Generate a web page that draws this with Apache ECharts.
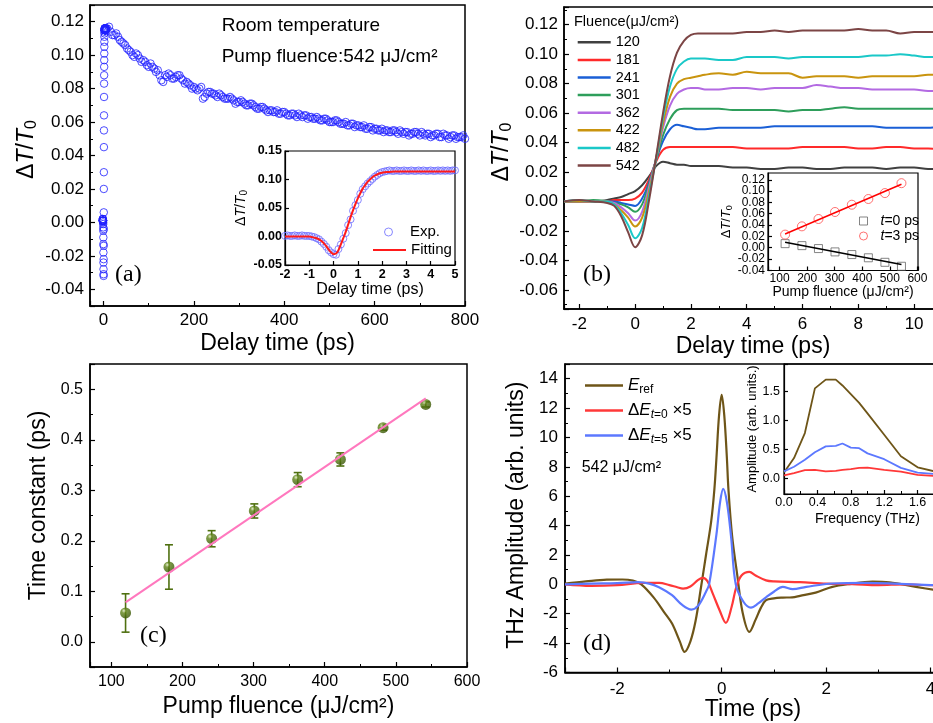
<!DOCTYPE html>
<html>
<head>
<meta charset="utf-8">
<title>Ultrafast THz response</title>
<script src="https://cdn.jsdelivr.net/npm/echarts@6/dist/echarts.min.js"></script>
<style>
  html, body { margin: 0; padding: 0; background: #fff; }
  #chart { width: 933px; height: 723px; }
</style>
</head>
<body>
<div id="chart"></div>
<script>
// ---- (a) long-delay decay, 542 uJ/cm2 (two interleaved scans) ----
const decayT = [8,16,24,32,40,48,56,64,72,80,88,96,104,112,120,128,136,144,152,160,168,176,184,192,200,208,216,224,232,240,248,256,264,272,280,288,296,304,312,320,328,336,344,352,360,368,376,384,392,400,408,416,424,432,440,448,456,464,472,480,488,496,504,512,520,528,536,544,552,560,568,576,584,592,600,608,616,624,632,640,648,656,664,672,680,688,696,704,712,720,728,736,744,752,760,768,776,784,792,800];
const decayV = [0.116,0.114,0.112,0.111,0.108,0.106,0.103,0.100,0.101,0.098,
  0.097,0.094,0.095,0.092,0.091,0.085,0.088,0.089,0.086,0.087,
  0.088,0.085,0.084,0.082,0.081,0.079,0.081,0.075,0.078,0.077,
  0.076,0.077,0.075,0.074,0.075,0.073,0.072,0.073,0.071,0.070,
  0.071,0.069,0.068,0.069,0.067,0.067,0.066,0.067,0.065,0.066,
  0.064,0.065,0.064,0.065,0.063,0.064,0.063,0.062,0.063,0.061,
  0.062,0.061,0.060,0.061,0.060,0.059,0.060,0.058,0.059,0.058,
  0.057,0.058,0.056,0.057,0.056,0.055,0.056,0.055,0.054,0.055,
  0.054,0.055,0.053,0.054,0.053,0.054,0.053,0.054,0.052,0.053,
  0.052,0.053,0.051,0.053,0.052,0.051,0.052,0.051,0.051,0.050];
const decayT2 = [4,12,20,28,36,44,52,60,68,76,84,92,100,108,116,124,132,140,148,156,164,172,180,188,196,204,212,220,228,236,244,252,260,268,276,284,292,300,308,316,324,332,340,348,356,364,372,380,388,396,404,412,420,428,436,444,452,460,468,476,484,492,500,508,516,524,532,540,548,556,564,572,580,588,596,604,612,620,628,636,644,652,660,668,676,684,692,700,708,716,724,732,740,748,756,764,772,780,788,796];
const decayV2 = [0.115,0.117,0.112,0.113,0.109,0.107,0.104,0.102,0.099,0.100,
  0.096,0.096,0.093,0.093,0.090,0.088,0.084,0.087,0.088,0.086,
  0.088,0.086,0.083,0.083,0.080,0.080,0.080,0.074,0.077,0.078,
  0.077,0.075,0.076,0.074,0.074,0.074,0.071,0.072,0.072,0.070,
  0.071,0.070,0.068,0.069,0.068,0.066,0.067,0.066,0.065,0.066,
  0.065,0.064,0.065,0.063,0.064,0.064,0.062,0.063,0.062,0.062,
  0.061,0.062,0.060,0.060,0.061,0.059,0.059,0.058,0.059,0.057,
  0.058,0.057,0.056,0.057,0.055,0.056,0.055,0.054,0.055,0.054,
  0.055,0.053,0.054,0.054,0.052,0.053,0.054,0.052,0.053,0.053,
  0.051,0.052,0.053,0.051,0.052,0.050,0.052,0.050,0.051,0.052];

// ---- (a) inset: short delay scan and fit ----
const expT = [-2.0,-1.9,-1.8,-1.7,-1.6,-1.5,-1.4,-1.3,-1.2,-1.1,-1.0,-0.9,-0.8,-0.7,-0.6,-0.5,-0.4,-0.3,-0.2,-0.1,
  0.0,0.1,0.2,0.3,0.4,0.5,0.6,0.7,0.8,0.9,1.0,1.1,1.2,1.3,1.4,1.5,1.6,1.7,1.8,1.9,
  2.0,2.1,2.2,2.3,2.4,2.5,2.6,2.7,2.8,2.9,3.0,3.1,3.2,3.3,3.4,3.5,3.6,3.7,3.8,3.9,
  4.0,4.1,4.2,4.3,4.4,4.5,4.6,4.7,4.8,4.9,5.0];
const expV = [0.001,0.002,0.001,0.001,0.002,0.001,0.001,0.002,0.001,0.001,0.001,0.000,-0.001,-0.003,-0.005,-0.009,-0.013,-0.018,-0.024,-0.028,
  -0.031,-0.032,-0.022,-0.014,-0.004,0.006,0.020,0.030,0.045,0.055,0.064,0.075,0.083,0.088,0.093,0.097,0.101,0.105,0.108,0.111,
  0.113,0.114,0.115,0.116,0.115,0.115,0.116,0.115,0.115,0.116,0.115,0.115,0.116,0.115,0.115,0.116,0.115,0.116,0.115,0.115,
  0.116,0.115,0.115,0.116,0.115,0.116,0.115,0.116,0.115,0.116,0.116];
const fitT = [-2,-1.5,-1.0,-0.9,-0.8,-0.7,-0.6,-0.5,-0.4,-0.3,-0.2,-0.1,0,0.1,0.2,0.3,0.4,0.5,0.6,0.7,0.8,0.9,1.0,1.1,1.2,1.3,1.4,1.5,1.6,1.7,1.8,1.9,2.0,2.2,2.5,3,4,5];
const fitV = [0,0,0,-0.001,-0.002,-0.003,-0.005,-0.008,-0.012,-0.017,-0.023,-0.028,-0.031,-0.030,-0.024,-0.014,-0.003,0.008,0.021,0.034,0.046,0.057,0.067,0.076,0.084,0.090,0.096,0.100,0.104,0.107,0.109,0.111,0.112,0.113,0.114,0.114,0.114,0.114];

// ---- (b) fluence dependence ----
const bFluence = ['120','181','241','301','362','422','482','542'];
const bT = [-2.55,-2,-1.5,-1,-0.75,-0.5,-0.25,0,0.25,0.5,0.75,1,1.25,1.5,1.75,2,2.25,2.5,3,3.5,4,4.5,5,5.5,6,6.5,7,7.5,8,8.5,9,9.5,10,10.5,11];
const b120 = [0,0,0,0.001,0.002,0.003,0.005,0.007,0.011,0.017,0.024,0.027,0.026,0.025,0.025,0.024,0.024,0.024,0.024,0.023,0.023,0.022,0.022,0.023,0.023,0.022,0.022,0.023,0.023,0.023,0.022,0.023,0.023,0.022,0.022];
const b181 = [0,0,0,0,0.001,0.001,0.001,0.002,0.006,0.015,0.027,0.035,0.037,0.037,0.037,0.037,0.037,0.037,0.037,0.037,0.036,0.036,0.036,0.036,0.037,0.037,0.037,0.037,0.036,0.036,0.037,0.037,0.036,0.036,0.035];
const b241 = [0,0,0,0,0,-0.001,-0.002,-0.003,0.002,0.013,0.028,0.041,0.049,0.052,0.051,0.050,0.049,0.049,0.050,0.050,0.050,0.050,0.051,0.051,0.051,0.051,0.051,0.051,0.051,0.051,0.050,0.050,0.050,0.050,0.051];
const b301 = [0,0,0.001,0,-0.001,-0.002,-0.004,-0.007,-0.002,0.012,0.028,0.045,0.056,0.062,0.063,0.063,0.063,0.063,0.063,0.062,0.062,0.062,0.062,0.061,0.062,0.062,0.063,0.064,0.063,0.063,0.063,0.063,0.063,0.063,0.063];
const b362 = [0,0,0,0,-0.001,-0.004,-0.008,-0.013,-0.007,0.010,0.029,0.050,0.065,0.073,0.076,0.077,0.077,0.076,0.076,0.077,0.077,0.076,0.077,0.077,0.077,0.079,0.078,0.077,0.077,0.076,0.076,0.076,0.076,0.075,0.075];
const b422 = [0,0,0,0,-0.002,-0.006,-0.011,-0.017,-0.011,0.007,0.029,0.053,0.071,0.080,0.083,0.084,0.085,0.086,0.087,0.086,0.088,0.087,0.087,0.087,0.084,0.085,0.085,0.085,0.084,0.085,0.085,0.085,0.085,0.086,0.086];
const b482 = [0,0.001,0,0,-0.002,-0.008,-0.016,-0.025,-0.018,0.004,0.029,0.057,0.078,0.090,0.095,0.097,0.097,0.097,0.096,0.096,0.098,0.098,0.098,0.097,0.098,0.098,0.098,0.098,0.098,0.099,0.099,0.100,0.099,0.098,0.098];
const b542 = [0,0.001,0,-0.001,-0.003,-0.010,-0.021,-0.031,-0.023,0.001,0.030,0.060,0.085,0.101,0.109,0.113,0.114,0.114,0.114,0.114,0.115,0.115,0.116,0.115,0.116,0.116,0.116,0.116,0.117,0.116,0.116,0.114,0.115,0.115,0.115];
const bCurves = [b120, b181, b241, b301, b362, b422, b482, b542];
const bColors = ['#404040','#ff2a2a','#1a5fd6','#2e9e5b','#b36ae2','#c9940e','#1ac8c8','#7c4545'];

// ---- (b) inset + (c): values at each fluence ----
const fluence = [120,181,241,301,362,422,482,542];
const dT0 = [0.007,0.0035,-0.0017,-0.0076,-0.0123,-0.018,-0.026,-0.033];
const dT3 = [0.023,0.0376,0.0506,0.063,0.0759,0.086,0.0965,0.114];
const fitEnds = [120,542];
const fit0 = [0.0094,-0.030];
const fit3 = [0.024,0.112];
const tau = [0.057,0.148,0.204,0.259,0.321,0.361,0.424,0.470];
const tauErr = [0.038,0.044,0.016,0.014,0.014,0.013,0.005,0.005];
const tauFit = [0.078,0.482];

// ---- (d) THz waveforms ----
const erefT = [-3,-2.6,-2.2,-1.9,-1.7,-1.54,-1.3,-1.1,-0.95,-0.8,-0.71,-0.6,-0.5,-0.4,-0.3,-0.2,-0.14,-0.1,-0.05,0,0.05,0.1,0.13,0.2,0.3,0.4,0.53,0.65,0.75,0.85,1.0,1.17,1.35,1.5,1.8,2.12,2.44,2.89,3.21,3.72,4.2];
const erefV = [0.05,0.2,0.32,0.33,0.25,0.0,-0.9,-1.9,-2.67,-3.9,-4.6,-3.9,-2.5,-0.3,2.0,4.3,6.45,8.6,11.5,12.9,11.5,8.6,6.45,3.3,0.6,-1.9,-3.24,-2.4,-1.6,-1.08,-0.95,-0.9,-0.88,-0.78,-0.56,-0.17,0.02,0.18,0.13,-0.17,-0.45];
const dE0T = [-3,-2.5,-2,-1.5,-1.2,-1.0,-0.85,-0.74,-0.6,-0.45,-0.36,-0.27,-0.17,-0.04,0.08,0.19,0.28,0.38,0.53,0.65,0.85,1.0,1.5,2.0,2.5,3.0,3.5,4.0,4.5];
const dE0V = [0.0,-0.1,-0.05,0.1,0.1,-0.05,-0.2,-0.29,-0.15,0.3,0.44,0.2,-0.63,-1.76,-2.62,-1.54,-0.18,0.6,0.85,0.6,0.27,0.2,0.15,0.05,0.02,-0.05,0.0,-0.05,-0.05];
const dE5T = [-3,-2.5,-2,-1.6,-1.39,-1.2,-0.95,-0.75,-0.58,-0.45,-0.3,-0.24,-0.1,-0.03,0.03,0.1,0.18,0.27,0.42,0.56,0.7,0.85,1.0,1.17,1.36,1.62,2.12,2.76,3.3,4.0,4.5];
const dE5V = [0.0,0.05,0.08,0.15,0.05,-0.2,-0.74,-1.42,-1.72,-1.45,-0.5,0.0,3.4,5.6,6.5,5.6,3.25,0.0,-1.2,-1.58,-1.3,-0.88,-0.5,-0.17,-0.33,-0.17,0.06,0.1,0.05,-0.05,-0.1];

// ---- (d) inset spectra ----
const freq = [0,0.12,0.25,0.37,0.5,0.62,0.7,0.8,0.9,1.0,1.2,1.4,1.6,1.8,2.0];
const specRef = [0.10,0.35,0.78,1.55,1.70,1.70,1.60,1.45,1.30,1.12,0.75,0.38,0.19,0.12,0.08];
const specE5 = [0.12,0.20,0.32,0.45,0.55,0.56,0.60,0.53,0.52,0.43,0.33,0.18,0.10,0.075,0.06];
const specE0 = [0.05,0.09,0.14,0.145,0.12,0.13,0.145,0.16,0.18,0.185,0.145,0.115,0.06,0.04,0.03];

const FONT = '"Liberation Sans", Arial, sans-serif';
const SERIF = '"Liberation Serif", "Times New Roman", serif';

const pairs = (xs, ys) => xs.map((x, i) => [x, ys[i]]);

// label only multiples of step (hides the extra min/max ticks)
function fmt(step, dec) {
  return function (v) {
    const k = v / step;
    if (Math.abs(k - Math.round(k)) > 1e-6) return '';
    return (Math.round(k) * step).toFixed(dec);
  };
}

function dtName(size) {
  return {
    text: '{n|Δ}{i|T}{n|/}{i|T}{s|0}',
    rich: {
      n: { fontSize: size, fontFamily: FONT, verticalAlign: 'middle' },
      i: { fontSize: size, fontFamily: FONT, fontStyle: 'italic', verticalAlign: 'middle' },
      s: { fontSize: Math.round(size * 0.68), fontFamily: FONT, verticalAlign: 'middle', padding: [Math.round(size * 0.45), 0, 0, 0] }
    }
  };
}

function axis(o) {
  const nm = typeof o.name === 'object' ? o.name : { text: o.name || '', rich: {} };
  return {
    type: 'value', gridIndex: o.grid, min: o.min, max: o.max,
    minInterval: o.step, maxInterval: o.step,
    name: nm.text, nameLocation: 'middle', nameGap: o.nameGap, nameRotate: o.rotate || 0,
    nameTextStyle: { color: '#000', fontSize: o.nameSize, fontFamily: FONT, rich: nm.rich, padding: o.namePad || 0 },
    axisLine: { show: true, onZero: false, lineStyle: { color: '#000', width: o.lw || 1.5 } },
    axisTick: { show: true, inside: true, length: o.tick || 5, lineStyle: { color: '#000', width: 1.2 } },
    minorTick: { show: !!o.minor, splitNumber: o.minor || 2, length: 3, lineStyle: { color: '#000', width: 1 } },
    splitLine: { show: false },
    axisLabel: {
      color: '#000', fontSize: o.fs, fontFamily: FONT, margin: o.margin || 6,
      showMinLabel: o.showMin, showMaxLabel: o.showMax,
      fontWeight: o.bold ? 'bold' : 'normal', formatter: fmt(o.step, o.dec)
    }
  };
}

const grids = [
  { left: 90, top: 5, width: 375, height: 301 },      // a
  { left: 285, top: 151, width: 170, height: 114, borderWidth: 1.2 },   // a inset
  { left: 564, top: 7, width: 378, height: 302 },     // b
  { left: 768, top: 173, width: 150, height: 97.5, borderWidth: 1.2 },  // b inset
  { left: 90, top: 364, width: 377, height: 303 },    // c
  { left: 565, top: 364, width: 376, height: 308.5 }, // d
  { left: 784, top: 364, width: 167, height: 130, borderWidth: 1.2 }    // d inset
].map(g => Object.assign({
  show: true, borderColor: '#000', borderWidth: 1.5, backgroundColor: 'rgba(0,0,0,0)',
  containLabel: false, outerBoundsMode: 'none'
}, g));

const xAxes = [
  axis({ grid: 0, min: -30, max: 800, step: 200, minor: 2, dec: 0, fs: 17, name: 'Delay time (ps)', nameSize: 23, nameGap: 26 }),
  axis({ grid: 1, min: -2, max: 5, step: 1, dec: 0, fs: 12.5, bold: true, margin: 3, lw: 1.2, tick: 4, name: 'Delay time (ps)', nameSize: 16, nameGap: 17 }),
  axis({ grid: 2, min: -2.55, max: 11, step: 2, minor: 2, dec: 0, fs: 17, margin: 7, name: 'Delay time (ps)', nameSize: 23, nameGap: 26 }),
  axis({ grid: 3, min: 58, max: 602, step: 100, dec: 0, fs: 12, margin: 2, lw: 1.2, tick: 4, name: 'Pump fluence (μJ/cm²)', nameSize: 14, nameGap: 14 }),
  axis({ grid: 4, min: 70, max: 600, step: 100, minor: 2, dec: 0, fs: 16, margin: 7, name: 'Pump fluence (μJ/cm²)', nameSize: 23, nameGap: 28 }),
  axis({ grid: 5, min: -3, max: 4.2, step: 2, minor: 2, dec: 0, fs: 17, margin: 8, name: 'Time (ps)', nameSize: 23, nameGap: 24 }),
  axis({ grid: 6, min: 0, max: 2.0, step: 0.4, minor: 2, dec: 1, fs: 12.5, margin: 2, lw: 1.2, tick: 4, name: 'Frequency (THz)', nameSize: 14, nameGap: 18 })
];

const yAxes = [
  axis({ grid: 0, min: -0.05, max: 0.13, step: 0.02, minor: 2, dec: 2, fs: 17, name: dtName(23), rotate: 90, nameGap: 50, nameSize: 23, namePad: [0, 0, 0, 12] }),
  axis({ grid: 1, min: -0.05, max: 0.15, step: 0.05, dec: 2, fs: 12.5, bold: true, margin: 3, lw: 1.2, tick: 4, name: dtName(14), rotate: 90, nameGap: 34, nameSize: 14 }),
  axis({ grid: 2, min: -0.073, max: 0.132, step: 0.02, minor: 2, dec: 2, fs: 17, name: dtName(23), rotate: 90, nameGap: 49, nameSize: 23, namePad: [0, 0, 0, 12] }),
  // tightly packed labels: the empty extent label at the bottom is dropped so -0.04 and -0.02 both stay
  axis({ grid: 3, min: -0.0405, max: 0.132, step: 0.02, dec: 2, fs: 12, showMin: false, showMax: false, margin: 3, lw: 1.2, tick: 4, name: dtName(13), rotate: 90, nameGap: 32, nameSize: 13 }),
  axis({ grid: 4, min: -0.05, max: 0.55, step: 0.1, minor: 2, dec: 1, fs: 16, margin: 7, name: 'Time constant (ps)', rotate: 90, nameGap: 40, nameSize: 23, namePad: [0, 0, 0, 20] }),
  axis({ grid: 5, min: -6, max: 15, step: 2, minor: 2, dec: 0, fs: 17, margin: 7, name: 'THz Amplitude (arb. units)', rotate: 90, nameGap: 37, nameSize: 23, namePad: [0, 0, 0, 6] }),
  axis({ grid: 6, min: -0.27, max: 1.97, step: 0.5, dec: 1, fs: 12.5, margin: 4, lw: 1.2, tick: 4, name: 'Amplitude (arb. units.)', rotate: 90, nameGap: 20, nameSize: 13 })
];

const series = [];
const openCircle = (c) => ({ color: 'rgba(0,0,0,0)', borderColor: c, borderWidth: 1 });

// (a) main: short scan + two long scans
series.push({
  type: 'scatter', name: 'decay', xAxisIndex: 0, yAxisIndex: 0,
  data: pairs(expT, expV).concat(pairs(decayT, decayV), pairs(decayT2, decayV2)),
  symbol: 'circle', symbolSize: 7.5, itemStyle: openCircle('#1f1fff')
});
// (a) inset
series.push({
  type: 'scatter', name: 'Exp.', xAxisIndex: 1, yAxisIndex: 1,
  data: pairs(expT, expV), symbol: 'circle', symbolSize: 7, itemStyle: openCircle('#6b6bff')
});
series.push({
  type: 'line', name: 'Fitting', xAxisIndex: 1, yAxisIndex: 1,
  data: pairs(fitT, fitV), smooth: 0.3, symbol: 'none',
  lineStyle: { color: '#ff1a1a', width: 2 }, itemStyle: { color: '#ff1a1a' }, z: 4
});
// (b) main
bCurves.forEach((arr, k) => {
  series.push({
    type: 'line', name: bFluence[k], xAxisIndex: 2, yAxisIndex: 2,
    data: pairs(bT, arr), smooth: 0.35, symbol: 'none',
    lineStyle: { color: bColors[k], width: 2 }, itemStyle: { color: bColors[k] }
  });
});
// (b) inset
series.push({
  type: 'line', name: 'fit0', xAxisIndex: 3, yAxisIndex: 3, data: pairs(fitEnds, fit0),
  symbol: 'none', lineStyle: { color: '#000', width: 1.5 }
});
series.push({
  type: 'line', name: 'fit3', xAxisIndex: 3, yAxisIndex: 3, data: pairs(fitEnds, fit3),
  symbol: 'none', lineStyle: { color: '#ff0000', width: 1.5 }
});
series.push({
  type: 'scatter', name: 't=0 ps', xAxisIndex: 3, yAxisIndex: 3, data: pairs(fluence, dT0),
  symbol: 'rect', symbolSize: 8, itemStyle: openCircle('#666')
});
series.push({
  type: 'scatter', name: 't=3 ps', xAxisIndex: 3, yAxisIndex: 3, data: pairs(fluence, dT3),
  symbol: 'circle', symbolSize: 9, itemStyle: openCircle('#ff4d4d')
});
// (c)
const olive = '#4f7010';
series.push({
  type: 'custom', name: 'err', xAxisIndex: 4, yAxisIndex: 4, z: 3,
  data: fluence.map((f, i) => [f, tau[i] - tauErr[i], tau[i] + tauErr[i]]),
  renderItem: function (params, api) {
    const lo = api.coord([api.value(0), api.value(1)]);
    const hi = api.coord([api.value(0), api.value(2)]);
    const w = 4;
    const st = { stroke: olive, lineWidth: 1.6 };
    return {
      type: 'group', children: [
        { type: 'line', shape: { x1: lo[0], y1: lo[1], x2: hi[0], y2: hi[1] }, style: st },
        { type: 'line', shape: { x1: lo[0] - w, y1: lo[1], x2: lo[0] + w, y2: lo[1] }, style: st },
        { type: 'line', shape: { x1: hi[0] - w, y1: hi[1], x2: hi[0] + w, y2: hi[1] }, style: st }
      ]
    };
  }
});
series.push({
  type: 'scatter', name: 'tau', xAxisIndex: 4, yAxisIndex: 4, z: 4,
  data: pairs(fluence, tau), symbol: 'circle', symbolSize: 11,
  itemStyle: {
    color: new echarts.graphic.RadialGradient(0.35, 0.3, 0.75, [
      { offset: 0, color: '#dfe9c0' }, { offset: 0.28, color: '#5f8418' }, { offset: 1, color: '#365203' }
    ])
  }
});
series.push({
  type: 'line', name: 'tauFit', xAxisIndex: 4, yAxisIndex: 4, z: 5,
  data: pairs(fitEnds, tauFit), symbol: 'none', lineStyle: { color: '#ff78be', width: 2 }
});
// (d)
const brown = '#6e5518', red = '#ff3838', blue = '#5c78ff';
series.push({ type: 'line', name: 'Eref', xAxisIndex: 5, yAxisIndex: 5, data: pairs(erefT, erefV), smooth: 0.35, symbol: 'none', lineStyle: { color: brown, width: 2.2 }, itemStyle: { color: brown } });
series.push({ type: 'line', name: 'dE0', xAxisIndex: 5, yAxisIndex: 5, data: pairs(dE0T, dE0V), smooth: 0.35, symbol: 'none', lineStyle: { color: red, width: 2.2 }, itemStyle: { color: red } });
series.push({ type: 'line', name: 'dE5', xAxisIndex: 5, yAxisIndex: 5, data: pairs(dE5T, dE5V), smooth: 0.35, symbol: 'none', lineStyle: { color: blue, width: 2.2 }, itemStyle: { color: blue } });
// (d) inset
series.push({ type: 'line', name: 'sRef', xAxisIndex: 6, yAxisIndex: 6, data: pairs(freq, specRef), symbol: 'none', lineStyle: { color: brown, width: 1.8 } });
series.push({ type: 'line', name: 'sE5', xAxisIndex: 6, yAxisIndex: 6, data: pairs(freq, specE5), symbol: 'none', lineStyle: { color: blue, width: 1.8 } });
series.push({ type: 'line', name: 'sE0', xAxisIndex: 6, yAxisIndex: 6, data: pairs(freq, specE0), symbol: 'none', lineStyle: { color: red, width: 1.8 } });

const dLegendText = {
  Eref: '{i|E}{s|ref}',
  dE0: '{n|Δ}{i|E}{si|t}{s|=0}{n| ×5}',
  dE5: '{n|Δ}{i|E}{si|t}{s|=5}{n| ×5}'
};

const legendBase = { orient: 'vertical', padding: 0, itemGap: 0, selectedMode: false };

// note: a legend whose icons are narrower than itemWidth is aligned by the icon's own left edge
const option = {
  animation: false,
  backgroundColor: '#fff',
  textStyle: { fontFamily: FONT },
  grid: grids,
  xAxis: xAxes,
  yAxis: yAxes,
  legend: [
    Object.assign({}, legendBase, {
      data: bFluence, icon: 'rect', left: 577.7, top: 33.5, itemWidth: 33, itemHeight: 2.5,
      textStyle: { fontSize: 14.5, lineHeight: 17.6, color: '#000', fontFamily: FONT }
    }),
    Object.assign({}, legendBase, {
      data: [{ name: 'Exp.', icon: 'circle', itemStyle: openCircle('#6b6bff') }],
      left: 384, top: 223, itemWidth: 33, itemHeight: 8,
      textStyle: { fontSize: 15, lineHeight: 18, color: '#000', fontFamily: FONT }
    }),
    Object.assign({}, legendBase, {
      data: ['Fitting'], icon: 'rect',
      left: 373, top: 241, itemWidth: 33, itemHeight: 2,
      textStyle: { fontSize: 15, lineHeight: 18, color: '#000', fontFamily: FONT }
    }),
    Object.assign({}, legendBase, {
      data: [
        { name: 't=0 ps', icon: 'path://M0,0L10,0L10,10L0,10Z', itemStyle: openCircle('#666') },
        { name: 't=3 ps', icon: 'circle', itemStyle: openCircle('#ff4d4d') }
      ],
      left: 859, top: 213.5, itemWidth: 24, itemHeight: 8, symbolKeepAspect: true,
      formatter: name => '{i|t}' + name.slice(1),
      textStyle: { fontSize: 14, lineHeight: 15, color: '#000', fontFamily: FONT,
        rich: { i: { fontSize: 14, fontStyle: 'italic', fontFamily: FONT } } }
    }),
    Object.assign({}, legendBase, {
      data: ['Eref', 'dE0', 'dE5'], icon: 'rect', left: 585, top: 375, itemWidth: 38, itemHeight: 2.5, itemGap: 4,
      formatter: name => dLegendText[name],
      textStyle: {
        fontSize: 17, lineHeight: 21, color: '#000', fontFamily: FONT,
        rich: {
          n: { fontSize: 17, fontFamily: FONT, verticalAlign: 'middle' },
          i: { fontSize: 17, fontFamily: FONT, fontStyle: 'italic', verticalAlign: 'middle' },
          s: { fontSize: 12, fontFamily: FONT, verticalAlign: 'middle', padding: [9, 0, 0, 0] },
          si: { fontSize: 12, fontFamily: FONT, fontStyle: 'italic', verticalAlign: 'middle', padding: [9, 0, 0, 0] }
        }
      }
    })
  ],
  graphic: [
    { type: 'text', x: 221.7, y: 26, style: { text: 'Room temperature', fontSize: 19, fontFamily: FONT, fill: '#000', verticalAlign: 'middle' } },
    { type: 'text', x: 221.7, y: 57, style: { text: 'Pump fluence:542 μJ/cm²', fontSize: 19, fontFamily: FONT, fill: '#000', verticalAlign: 'middle' } },
    { type: 'text', x: 115, y: 275, style: { text: '(a)', fontSize: 24, fontFamily: SERIF, fill: '#000', verticalAlign: 'middle' } },
    { type: 'text', x: 583, y: 275, style: { text: '(b)', fontSize: 24, fontFamily: SERIF, fill: '#000', verticalAlign: 'middle' } },
    { type: 'text', x: 140, y: 636, style: { text: '(c)', fontSize: 24, fontFamily: SERIF, fill: '#000', verticalAlign: 'middle' } },
    { type: 'text', x: 583, y: 644, style: { text: '(d)', fontSize: 24, fontFamily: SERIF, fill: '#000', verticalAlign: 'middle' } },
    { type: 'text', x: 574, y: 22, style: { text: 'Fluence(μJ/cm²)', fontSize: 14.5, fontFamily: FONT, fill: '#000', verticalAlign: 'middle' } },
    { type: 'text', x: 581.7, y: 468, style: { text: '542 μJ/cm²', fontSize: 16, fontFamily: FONT, fill: '#000', verticalAlign: 'middle' } }
  ],
  series: series
};

const chart = echarts.init(document.getElementById('chart'), null, { renderer: 'canvas' });
chart.setOption(option);
</script>
</body>
</html>
